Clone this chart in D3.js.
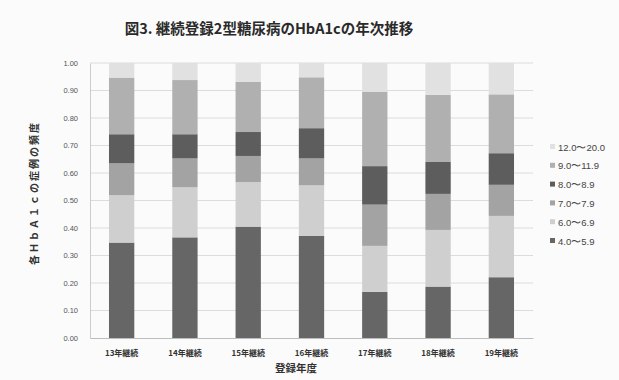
<!DOCTYPE html>
<html>
<head>
<meta charset="utf-8">
<script src="https://cdn.jsdelivr.net/npm/d3@7"></script>
<style>
  html, body { margin: 0; padding: 0; background: #fbfbfb; }
  svg { display: block; }
</style>
</head>
<body>
<svg id="chart" width="619" height="380"></svg>
<script>
// Registration cohorts (x axis)
const categories = ["13年継続", "14年継続", "15年継続", "16年継続", "17年継続", "18年継続", "19年継続"];

// HbA1c ranges, bottom to top of each stack
const ranges = ["4.0〜5.9", "6.0〜6.9", "7.0〜7.9", "8.0〜8.9", "9.0〜11.9", "12.0〜20.0"];

// Share of cases in each HbA1c range, per cohort
const r4_0 = [0.347, 0.366, 0.405, 0.371, 0.168, 0.187, 0.221];
const r6_0 = [0.172, 0.182, 0.162, 0.184, 0.167, 0.206, 0.223];
const r7_0 = [0.116, 0.105, 0.095, 0.098, 0.150, 0.131, 0.113];
const r8_0 = [0.106, 0.088, 0.087, 0.110, 0.140, 0.116, 0.115];
const r9_0 = [0.206, 0.197, 0.183, 0.185, 0.271, 0.244, 0.214];
const r12_0 = [0.053, 0.062, 0.068, 0.052, 0.104, 0.116, 0.114];

const yTicks = [0, 0.1, 0.2, 0.3, 0.4, 0.5, 0.6, 0.7, 0.8, 0.9, 1.0];

const seriesValues = [r4_0, r6_0, r7_0, r8_0, r9_0, r12_0];
const colors = ["#666666", "#cfcfcf", "#a3a3a3", "#5d5d5d", "#b0b0b0", "#e1e1e1"];

const rows = categories.map((c, i) => {
  const o = { cat: c };
  ranges.forEach((r, k) => { o[r] = seriesValues[k][i]; });
  return o;
});

const svg = d3.select("#chart");
const m = { left: 90, right: 86, top: 63, bottom: 42 };
const W = 619, H = 380;

const x = d3.scaleBand().domain(categories).range([m.left, W - m.right]).paddingInner(0.6).paddingOuter(0.3);
const y = d3.scaleLinear().domain([0, 1]).range([H - m.bottom, m.top]);

// Title
svg.append("text")
  .attr("x", 269).attr("y", 34)
  .attr("text-anchor", "middle")
  .attr("font-family", "Noto Sans CJK JP")
  .attr("font-weight", "bold")
  .attr("font-size", 14.5)
  .attr("fill", "#2a2a2a")
  .text("図3. 継続登録2型糖尿病のHbA1cの年次推移");

// Gridlines
svg.append("g")
  .selectAll("line")
  .data(yTicks.filter(t => t > 0))
  .join("line")
  .attr("x1", m.left).attr("x2", W - m.right)
  .attr("y1", d => y(d)).attr("y2", d => y(d))
  .attr("stroke", "#dcdcdc").attr("stroke-width", 1);

// Y axis
const yAxis = svg.append("g")
  .attr("transform", `translate(${m.left},0)`)
  .call(d3.axisLeft(y).tickValues(yTicks).tickFormat(d3.format(".2f")).tickSize(0).tickPadding(12));
yAxis.select(".domain").attr("stroke", "#cccccc");
yAxis.selectAll("text")
  .attr("font-family", "Liberation Sans")
  .attr("font-size", 7.5)
  .attr("fill", "#555");

// Stacked bars
const stack = d3.stack().keys(ranges)(rows);
svg.append("g")
  .selectAll("g")
  .data(stack)
  .join("g")
  .attr("fill", (d, i) => colors[i])
  .selectAll("rect")
  .data(d => d)
  .join("rect")
  .attr("x", d => x(d.data.cat))
  .attr("width", x.bandwidth())
  .attr("y", d => y(d[1]))
  .attr("height", d => y(d[0]) - y(d[1]));

// X axis
const xAxis = svg.append("g")
  .attr("transform", `translate(0,${H - m.bottom})`)
  .call(d3.axisBottom(x).tickSize(0).tickPadding(12));
xAxis.select(".domain").attr("stroke", "#bdbdbd");
xAxis.selectAll("text")
  .attr("font-family", "Noto Sans CJK JP")
  .attr("font-weight", "bold")
  .attr("font-size", 8)
  .attr("fill", "#333");

// Axis titles
svg.append("text")
  .attr("x", 296).attr("y", 372)
  .attr("text-anchor", "middle")
  .attr("font-family", "Noto Sans CJK JP")
  .attr("font-weight", "bold")
  .attr("font-size", 10.5)
  .attr("fill", "#333")
  .text("登録年度");

svg.append("text")
  .attr("transform", "translate(38,193) rotate(-90)")
  .attr("text-anchor", "middle")
  .attr("font-family", "Noto Sans CJK JP")
  .attr("font-weight", "bold")
  .attr("font-size", 10)
  .attr("letter-spacing", 2)
  .attr("fill", "#333")
  .text("各ＨｂＡ１ｃの症例の頻度");

// Legend, top entry is the top of the stack
const legend = svg.append("g");
const legendItems = ranges.map((r, i) => ({ r, c: colors[i] })).reverse();
const ly = d3.scalePoint().domain(legendItems.map(d => d.r)).range([147, 241]);
legendItems.forEach(d => {
  legend.append("rect")
    .attr("x", 550).attr("y", ly(d.r) - 3)
    .attr("width", 5).attr("height", 5)
    .attr("fill", d.c);
  legend.append("text")
    .attr("x", 558).attr("y", ly(d.r) + 3.5)
    .attr("font-family", "Liberation Sans")
    .attr("font-size", 9.5)
    .attr("fill", "#444")
    .text(d.r);
});
</script>
</body>
</html>
